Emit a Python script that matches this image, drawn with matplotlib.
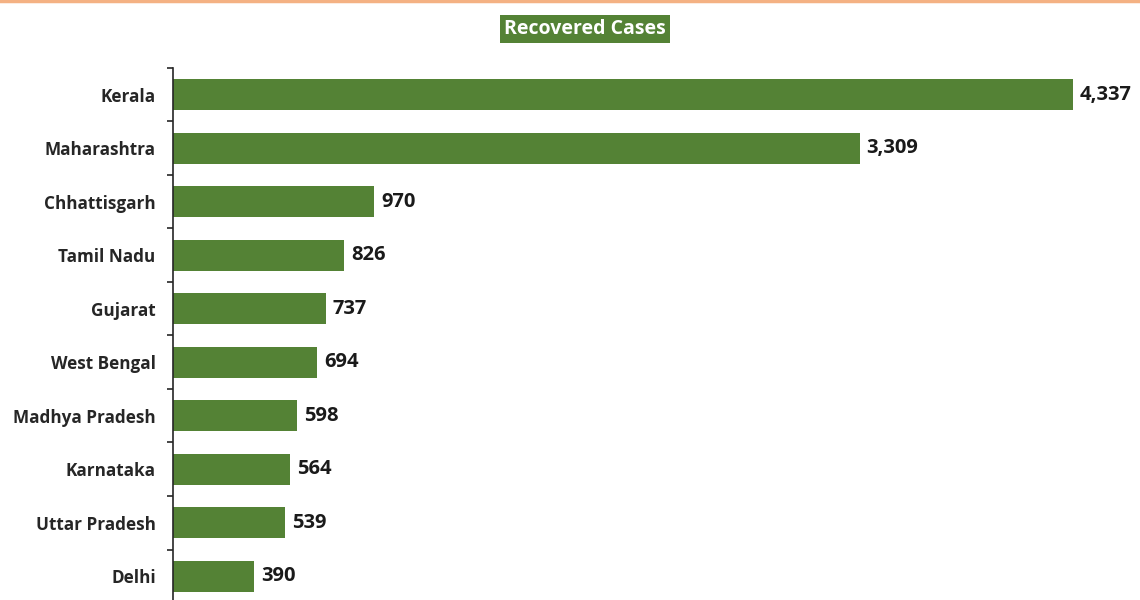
import matplotlib
matplotlib.use("Agg")
import matplotlib.pyplot as plt
from matplotlib.lines import Line2D

states = ["Kerala", "Maharashtra", "Chhattisgarh", "Tamil Nadu", "Gujarat",
          "West Bengal", "Madhya Pradesh", "Karnataka", "Uttar Pradesh", "Delhi"]
recovered = [4337, 3309, 970, 826, 737, 694, 598, 564, 539, 390]
title_text = "Recovered Cases"

GREEN = "#548235"
FONT = ["Open Sans", "DejaVu Sans"]

fig = plt.figure(figsize=(11.4, 6), dpi=100)
fig.patch.set_facecolor("white")

# top orange rule
fig.add_artist(Line2D([0, 1], [0.998, 0.998], transform=fig.transFigure,
                      color="#F4B183", lw=2.5))

ax = fig.add_axes([173/1140, -3/600, 1 - 173/1140, 535/600])
y = list(range(len(states)))
ax.barh(y, recovered, height=0.58, color=GREEN)
ax.set_ylim(len(states) - 0.5, -0.5)
ax.set_xlim(0, 967/0.2075)

ax.set_yticks(y)
ax.set_yticklabels(states, fontfamily=FONT, fontweight="bold", fontsize=12.3, color="#262626")
ax.tick_params(axis="y", which="major", length=0, pad=12.5)
ax.set_yticks([i - 0.5 for i in range(len(states) + 1)], minor=True)
ax.tick_params(axis="y", which="minor", length=4, width=1.2, color="#262626", direction="out")
ax.set_xticks([])

for s in ["top", "right", "bottom"]:
    ax.spines[s].set_visible(False)
ax.spines["left"].set_color("#262626")
ax.spines["left"].set_linewidth(1.2)

for yi, v in zip(y, recovered):
    ax.annotate(f"{v:,}", xy=(v, yi), xytext=(5, 0), textcoords="offset points",
                va="center", ha="left", fontfamily=FONT, fontweight="bold",
                fontsize=14.5, color="#1a1a1a")

fig.text(585/1140, 1 - 29/600, title_text, ha="center", va="center",
         fontfamily=FONT, fontweight="bold", fontsize=14, color="white",
         bbox=dict(boxstyle="square,pad=0.2", facecolor=GREEN, edgecolor="none"))

fig.savefig("out.png", dpi=100)
